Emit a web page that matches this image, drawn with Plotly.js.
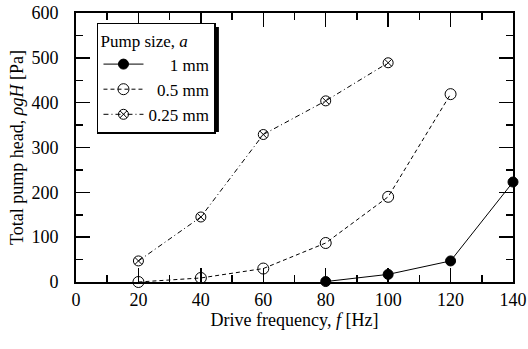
<!DOCTYPE html>
<html>
<head>
<meta charset="utf-8">
<script src="https://cdn.plot.ly/plotly-3.0.1.min.js"></script>
<style>html,body{margin:0;padding:0;background:#fff;}</style>
</head>
<body>
<div id="chart" style="width:528px;height:349px;"></div>
<script>
const freq1 = [80, 100, 120, 140];
const head1 = [1, 17, 47, 223];
const freq05 = [20, 40, 60, 80, 100, 120];
const head05 = [0, 9, 30, 87, 190, 419];
const freq025 = [20, 40, 60, 80, 100];
const head025 = [47, 145, 329, 404, 489];
const names = ['\u2007\u2007\u20081 mm', '\u20070.5 mm', '0.25 mm'];

const font = {family: 'Liberation Serif', size: 18, color: '#000'};
const legFont = {family: 'Liberation Serif', size: 17, color: '#000'};

const traces = [
  {x: freq1, y: head1, name: names[0], mode: 'lines+markers', cliponaxis: false,
   line: {color: '#000', width: 1, dash: 'solid'},
   marker: {symbol: 'circle', size: 10, color: '#000', line: {color: '#000', width: 1}}},
  {x: freq05, y: head05, name: names[1], mode: 'lines+markers', cliponaxis: false,
   line: {color: '#000', width: 1, dash: '4px,3px'},
   marker: {symbol: 'circle-open', size: 11, color: '#000', line: {color: '#000', width: 1}}},
  {x: freq025, y: head025, name: names[2], mode: 'lines+markers', cliponaxis: false,
   line: {color: '#000', width: 1, dash: '5px,3px,1px,3px'},
   marker: {symbol: 'circle-x-open', size: 10, color: '#000', line: {color: '#000', width: 1}}}
];

const axisCommon = {
  showline: true, linecolor: '#000', linewidth: 2, mirror: 'allticks',
  ticks: 'inside', ticklen: 14, tickwidth: 1.5, tickcolor: '#000',
  showgrid: false, zeroline: false, tickfont: font,
  minor: {ticks: 'inside', ticklen: 7, tickwidth: 1.5, tickcolor: '#000', showgrid: false}
};

const layout = {
  width: 528, height: 349,
  margin: {l: 76, r: 15, t: 13, b: 67},
  paper_bgcolor: '#fff', plot_bgcolor: '#fff',
  font: font,
  showlegend: true,
  xaxis: Object.assign({}, axisCommon, {
    range: [0, 140], dtick: 20, tick0: 0,
    minor: Object.assign({}, axisCommon.minor, {dtick: 10}),
    ticklabelstandoff: 0,
    title: {text: 'Drive frequency, <i>f</i> [Hz]', font: font, standoff: 4}
  }),
  yaxis: Object.assign({}, axisCommon, {
    range: [0, 600], dtick: 100, tick0: 0,
    minor: Object.assign({}, axisCommon.minor, {dtick: 50}),
    ticklabelstandoff: 12,
    title: {text: 'Total pump head, <i>ρgH</i> [Pa]', font: font, standoff: 3}
  }),
  legend: {
    x: 0.048, y: 0.963, xanchor: 'left', yanchor: 'top',
    bgcolor: '#fff', bordercolor: '#000', borderwidth: 1.5,
    font: legFont, itemwidth: 40, tracegroupgap: 0,
    title: {text: 'Pump size, <i>a</i>', font: legFont}
  },
  shapes: [
    {type: 'rect', xref: 'paper', yref: 'paper', layer: 'above',
     x0: 0.057, x1: 0.327, y0: 0.558, y1: 0.948,
     fillcolor: '#000', line: {width: 0}}
  ]
};

Plotly.newPlot('chart', traces, layout, {displayModeBar: false, staticPlot: true});
</script>
</body>
</html>
